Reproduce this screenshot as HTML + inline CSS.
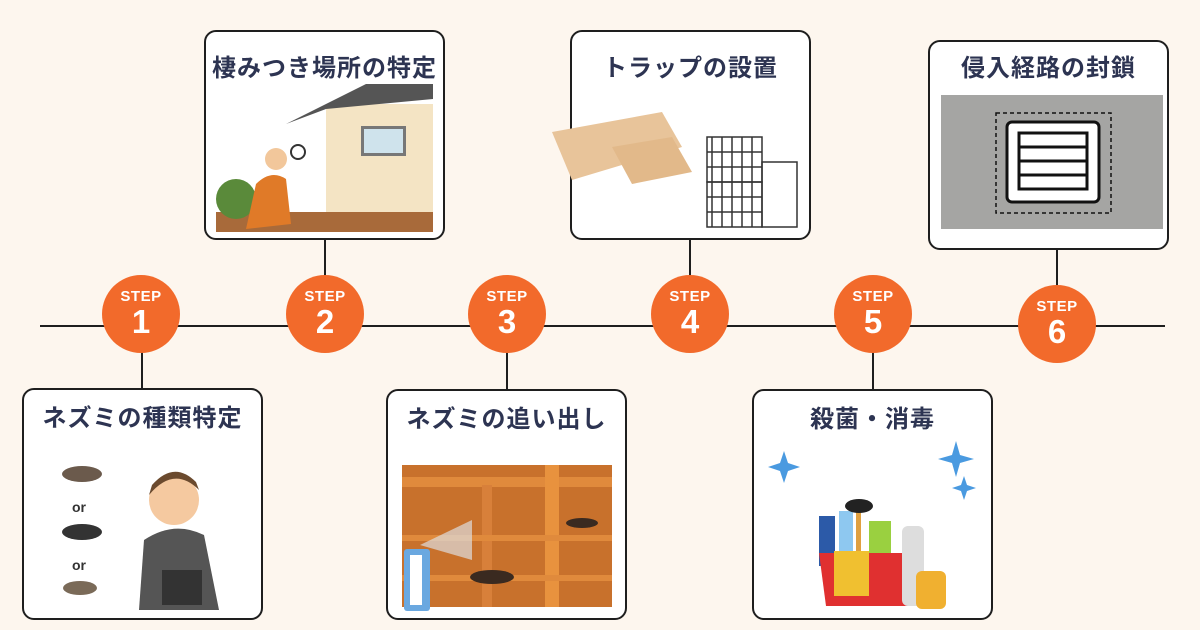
<!DOCTYPE html>
<html><head><meta charset="utf-8"><style>
body{margin:0;width:1200px;height:630px;background:#fdf6ee;position:relative;overflow:hidden;font-family:"Liberation Sans","Noto Sans CJK JP",sans-serif}
.line{position:absolute;background:#1e1e1e}
.c{position:absolute;width:78px;height:78px;border-radius:50%;background:#f26a2b;color:#fff;text-align:center;font-weight:bold}
.c .s{position:absolute;top:13px;left:0;right:0;font-size:15px;letter-spacing:0.5px}
.c .n{position:absolute;top:28px;left:0;right:0;font-size:33px}
.box{position:absolute;width:241px;background:#fff;border:2px solid #1e1e1e;border-radius:12px;box-sizing:border-box}
.t{position:absolute;left:0;right:0;text-align:center;font-weight:bold;font-size:24px;color:#2d3452;font-family:"Noto Sans CJK JP",sans-serif;letter-spacing:1px}
.im{position:absolute}
</style></head><body>
<div class="line" style="left:40px;top:325px;width:1125px;height:2px"></div>
<div class="line" style="left:141px;top:340px;width:2px;height:50px"></div>
<div class="line" style="left:324px;top:238px;width:2px;height:50px"></div>
<div class="line" style="left:506px;top:340px;width:2px;height:50px"></div>
<div class="line" style="left:689px;top:238px;width:2px;height:50px"></div>
<div class="line" style="left:872px;top:340px;width:2px;height:50px"></div>
<div class="line" style="left:1056px;top:248px;width:2px;height:40px"></div>

<div class="c" style="left:102px;top:275px"><div class="s">STEP</div><div class="n">1</div></div>
<div class="c" style="left:286px;top:275px"><div class="s">STEP</div><div class="n">2</div></div>
<div class="c" style="left:468px;top:275px"><div class="s">STEP</div><div class="n">3</div></div>
<div class="c" style="left:651px;top:275px"><div class="s">STEP</div><div class="n">4</div></div>
<div class="c" style="left:834px;top:275px"><div class="s">STEP</div><div class="n">5</div></div>
<div class="c" style="left:1018px;top:285px"><div class="s">STEP</div><div class="n">6</div></div>

<!-- Step 1 -->
<div class="box" style="left:22px;top:388px;height:232px">
<div class="t" style="top:8px">ネズミの種類特定</div>
<svg class="im" style="left:20px;top:70px" width="200" height="150">
<ellipse cx="38" cy="14" rx="20" ry="8" fill="#6b5a4c"/><ellipse cx="38" cy="72" rx="20" ry="8" fill="#333"/><ellipse cx="36" cy="128" rx="17" ry="7" fill="#7a6a58"/>
<text x="28" y="52" font-size="14" font-weight="bold" fill="#333" font-family="Liberation Sans">or</text>
<text x="28" y="110" font-size="14" font-weight="bold" fill="#333" font-family="Liberation Sans">or</text>
<path d="M95 150 L100 80 Q130 60 160 75 L175 150Z" fill="#555"/>
<circle cx="130" cy="40" r="25" fill="#f5c9a0"/><path d="M105 35 Q130 5 155 30 L152 22 Q130 0 108 25Z" fill="#6b4a2e"/>
<rect x="118" y="110" width="40" height="35" fill="#333"/>
</svg>
</div>

<!-- Step 2 -->
<div class="box" style="left:204px;top:30px;height:210px">
<div class="t" style="top:16px">棲みつき場所の特定</div>
<svg class="im" style="left:10px;top:52px" width="217" height="148">
<rect width="217" height="148" fill="#fff"/>
<rect x="110" y="20" width="107" height="110" fill="#f4e4c4"/>
<polygon points="70,40 150,0 217,0 217,15 110,25" fill="#555"/>
<rect x="145" y="42" width="45" height="30" fill="#777"/><rect x="148" y="45" width="39" height="24" fill="#cfe3ec"/>
<rect x="0" y="128" width="217" height="20" fill="#a86a3a"/>
<circle cx="20" cy="115" r="20" fill="#5a8a3a"/>
<path d="M30 145 L40 100 Q55 85 70 95 L75 140Z" fill="#e07a28"/><circle cx="60" cy="75" r="11" fill="#f2c79b"/>
<circle cx="82" cy="68" r="7" fill="none" stroke="#333" stroke-width="2"/>
</svg>
</div>

<!-- Step 3 -->
<div class="box" style="left:386px;top:389px;height:231px">
<div class="t" style="top:8px">ネズミの追い出し</div>
<svg class="im" style="left:14px;top:74px" width="212" height="148">
<rect width="210" height="142" fill="#c8712c"/>
<rect x="0" y="12" width="210" height="10" fill="#e08a3c"/>
<rect x="143" y="0" width="14" height="142" fill="#e8923e"/>
<rect x="80" y="20" width="10" height="122" fill="#d8803a"/>
<rect x="0" y="70" width="210" height="6" fill="#e08a3c"/><rect x="0" y="110" width="210" height="6" fill="#e08a3c"/>
<polygon points="18,80 70,55 70,95" fill="#ddd" opacity="0.7"/>
<ellipse cx="90" cy="112" rx="22" ry="7" fill="#3a2a20"/><ellipse cx="180" cy="58" rx="16" ry="5" fill="#3a2a20"/>
<rect x="2" y="84" width="26" height="62" rx="3" fill="#6aa8e0"/><rect x="8" y="90" width="12" height="50" fill="#fff"/>
</svg>
</div>

<!-- Step 4 -->
<div class="box" style="left:570px;top:30px;height:210px">
<div class="t" style="top:16px">トラップの設置</div>
<svg class="im" style="left:-20px;top:70px" width="250" height="140">
<polygon points="0,30 110,10 130,45 20,78" fill="#e8c49a"/>
<polygon points="60,45 120,35 140,70 80,82" fill="#e2b98a"/>
<g fill="none" stroke="#333" stroke-width="1.5">
<rect x="155" y="35" width="55" height="45"/><rect x="155" y="80" width="55" height="45"/><rect x="210" y="60" width="35" height="65"/>
<path d="M160 35v90M170 35v90M180 35v90M190 35v90M200 35v90M155 50h55M155 65h55M155 95h55M155 110h55"/>
</g>
</svg>
</div>

<!-- Step 5 -->
<div class="box" style="left:752px;top:389px;height:231px">
<div class="t" style="top:8px">殺菌・消毒</div>
<svg class="im" style="left:10px;top:50px" width="220" height="170">
<g fill="#4a9ae0"><path d="M20 10 L24 22 L36 26 L24 30 L20 42 L16 30 L4 26 L16 22Z"/><path d="M192 0 L196 14 L210 18 L196 22 L192 36 L188 22 L174 18 L188 14Z"/><path d="M200 35 L203 44 L212 47 L203 50 L200 59 L197 50 L188 47 L197 44Z"/></g>
<rect x="55" y="75" width="16" height="50" fill="#2c5aa8"/><rect x="75" y="70" width="14" height="50" fill="#8ec8f0"/>
<rect x="92" y="70" width="5" height="50" fill="#e0a040"/><ellipse cx="95" cy="65" rx="14" ry="7" fill="#222"/>
<rect x="105" y="80" width="22" height="40" fill="#9ad040"/>
<path d="M55 112 H150 L145 165 H62Z" fill="#e03030"/>
<rect x="70" y="110" width="35" height="45" fill="#f0c030"/>
<rect x="138" y="85" width="22" height="80" rx="6" fill="#ddd"/>
<rect x="152" y="130" width="30" height="38" rx="6" fill="#f0b030"/>
</svg>
</div>

<!-- Step 6 -->
<div class="box" style="left:928px;top:40px;height:210px">
<div class="t" style="top:6px">侵入経路の封鎖</div>
<svg class="im" style="left:11px;top:53px" width="222" height="134">
<rect width="222" height="134" fill="#a5a5a3"/>
<rect x="55" y="18" width="115" height="100" fill="none" stroke="#111" stroke-width="1.5" stroke-dasharray="4 3"/>
<rect x="66" y="27" width="92" height="80" rx="5" fill="#fff" stroke="#111" stroke-width="3"/>
<rect x="78" y="38" width="68" height="56" fill="#fff" stroke="#111" stroke-width="3"/>
<path d="M78 52h68M78 66h68M78 80h68" stroke="#111" stroke-width="3"/>
</svg>
</div>
</body></html>
